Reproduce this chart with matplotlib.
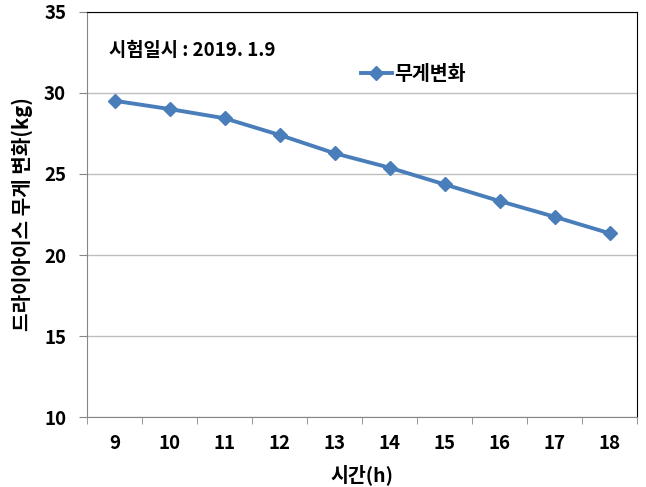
import matplotlib.pyplot as plt
import numpy as np

plt.rcParams['font.family'] = ['Noto Sans CJK KR', 'DejaVu Sans']

hours = ['9', '10', '11', '12', '13', '14', '15', '16', '17', '18']
weight = [29.52, 29.01, 28.44, 27.41, 26.28, 25.39, 24.36, 23.33, 22.36, 21.34]

fig = plt.figure(figsize=(6.46, 4.87), dpi=100)
ax = fig.add_axes([0.1347, 0.1437, 0.8515, 0.8317])

x = np.arange(len(hours))
ax.plot(x, weight, color='#4A7EBB', linewidth=2.8, marker='D', markersize=7,
        label='무게변화')

ax.set_xlim(-0.5, len(hours) - 0.5)
ax.set_ylim(10, 35)
ax.set_yticks([10, 15, 20, 25, 30, 35])
ax.set_xticks(x)
ax.set_xticklabels(hours)
ax.set_xticks(np.arange(-0.5, len(hours)), minor=True)
ax.tick_params(axis='x', which='major', length=0, pad=12)
ax.tick_params(axis='x', which='minor', length=5, color='#868686', direction='out')
ax.tick_params(axis='y', length=6, color='#868686', direction='out', pad=9)
for lab in ax.get_xticklabels() + ax.get_yticklabels():
    lab.set_fontsize(13.5)
    lab.set_fontweight('bold')

ax.yaxis.grid(True, color='#BEBEBE', linewidth=1)
ax.set_axisbelow(True)
ax.spines['left'].set_color('#868686')
ax.spines['bottom'].set_color('#868686')
ax.spines['top'].set_color('black')
ax.spines['right'].set_color('black')

ax.set_ylabel('드라이아이스 무게 변화(kg)', fontsize=14.5, fontweight='bold', labelpad=8)
ax.set_xlabel('시간(h)', fontsize=14, fontweight='bold', labelpad=8)

ax.text(0.04, 0.905, '시험일시 : 2019. 1.9', transform=ax.transAxes,
        fontsize=13.5, fontweight='bold', va='center')
ax.legend(loc='center left', bbox_to_anchor=(0.48, 0.845), frameon=False,
          prop={'size': 14, 'weight': 'bold'}, handlelength=1.6,
          handletextpad=0.1, borderpad=0)

fig.savefig('out.png', dpi=100)
